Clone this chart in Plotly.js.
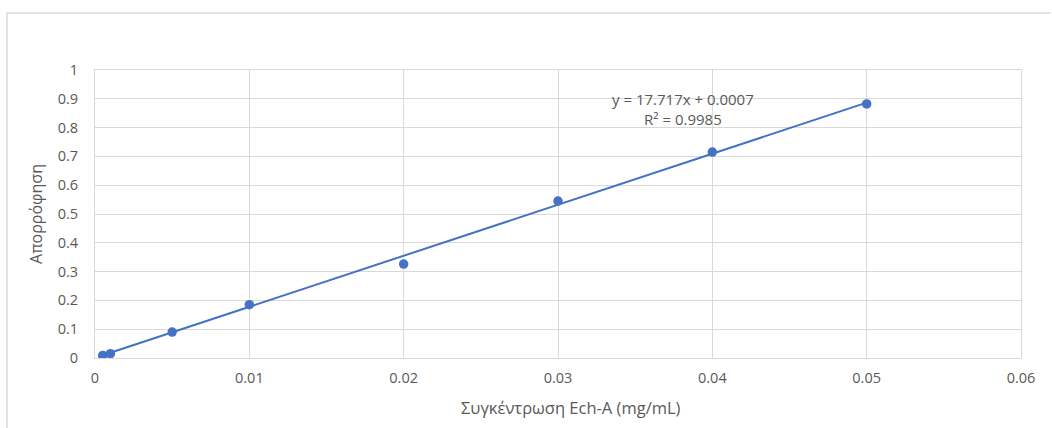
<!DOCTYPE html>
<html>
<head>
<meta charset="utf-8">
<script src="https://cdn.plot.ly/plotly-3.0.1.min.js"></script>
<style>
html,body{margin:0;padding:0;background:#fff;}
#chart{width:1052px;height:428px;}
</style>
</head>
<body>
<div id="chart"></div>
<script>
// Data
const concentration = [0.0005, 0.001, 0.005, 0.01, 0.02, 0.03, 0.04, 0.05];
const absorbance = [0.009, 0.015, 0.090, 0.185, 0.326, 0.545, 0.715, 0.882];
const slope = 17.717;
const intercept = 0.0007;
const rSquared = 0.9985;
const xTicks = [0, 0.01, 0.02, 0.03, 0.04, 0.05, 0.06];
const xTickLabels = ["0", "0.01", "0.02", "0.03", "0.04", "0.05", "0.06"];
const yTicks = [0, 0.1, 0.2, 0.3, 0.4, 0.5, 0.6, 0.7, 0.8, 0.9, 1];
const yTickLabels = ["0", "0.1", "0.2", "0.3", "0.4", "0.5", "0.6", "0.7", "0.8", "0.9", "1"];
const xTitle = "Συγκέντρωση Ech-A (mg/mL)";
const yTitle = "Απορρόφηση";

const xMin = Math.min(...concentration), xMax = Math.max(...concentration);
const trendX = [xMin, xMax];
const trendY = trendX.map(x => slope * x + intercept);

const blue = "#4472C4";
const grid = "#d9d9d9";
const txt = "#595959";
const font = "'Open Sans', 'Noto Sans', sans-serif";

const traces = [
  {x: trendX, y: trendY, mode: "lines", line: {color: blue, width: 2}, hoverinfo: "skip", showlegend: false},
  {x: concentration, y: absorbance, mode: "markers", marker: {color: blue, size: 9.5}, showlegend: false}
];

const layout = {
  width: 1052, height: 428,
  margin: {l: 95, r: 31, t: 70, b: 70},
  paper_bgcolor: "#fff", plot_bgcolor: "#fff",
  font: {family: font, color: txt, size: 14},
  showlegend: false,
  xaxis: {
    range: [0, 0.06], tickvals: xTicks, ticktext: xTickLabels,
    showgrid: true, gridcolor: grid, gridwidth: 1,
    showline: true, linecolor: grid, linewidth: 1, mirror: true,
    zeroline: false, ticks: "", ticklabelstandoff: 7,
    tickfont: {family: font, size: 14.5, color: txt}
  },
  yaxis: {
    range: [0, 1], tickvals: yTicks, ticktext: yTickLabels,
    showgrid: true, gridcolor: grid, gridwidth: 1,
    showline: true, linecolor: grid, linewidth: 1, mirror: true,
    zeroline: false, ticks: "", ticklabelstandoff: 13,
    tickfont: {family: font, size: 14.5, color: txt},
    title: {text: yTitle, font: {family: font, size: 16, color: txt}, standoff: 11}
  },
  annotations: [{
    xref: "paper", yref: "paper",
    x: (683 - 95) / 926, y: 1 - (109 - 70) / 288,
    xanchor: "center", yanchor: "middle",
    text: "y = " + slope + "x + " + intercept + "<br>R² = " + rSquared,
    showarrow: false, align: "center",
    font: {family: font, size: 15, color: txt}
  }, {
    xref: "paper", yref: "paper",
    x: (571 - 95) / 926, y: -(407 - 358) / 288,
    xanchor: "center", yanchor: "middle",
    text: xTitle, showarrow: false,
    font: {family: font, size: 16.5, color: txt}
  }],
  shapes: [
    {type: "line", xref: "paper", yref: "paper", x0: (7 - 95) / 926, x1: (7 - 95) / 926,
     y0: 1 + (70 - 13) / 288, y1: -0.5, line: {color: grid, width: 1.5}},
    {type: "line", xref: "paper", yref: "paper", x0: (7 - 95) / 926, x1: (1051 - 95) / 926,
     y0: 1 + (70 - 13) / 288, y1: 1 + (70 - 13) / 288, line: {color: grid, width: 1.5}}
  ]
};

Plotly.newPlot("chart", traces, layout, {displayModeBar: false, staticPlot: true});
</script>
</body>
</html>
